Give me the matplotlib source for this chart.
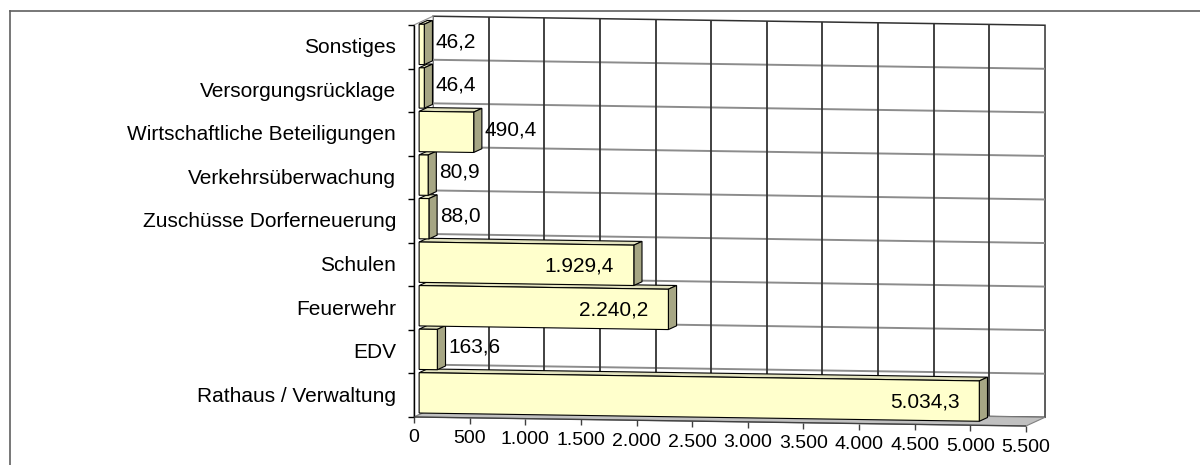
import matplotlib
matplotlib.use('Agg')
import matplotlib.pyplot as plt
from matplotlib.patches import Polygon
from matplotlib.lines import Line2D

plt.rcParams['font.family'] = ['Liberation Sans', 'DejaVu Sans']
plt.rcParams['font.size'] = 15

# bars from bottom to top
categories = ['Rathaus / Verwaltung', 'EDV', 'Feuerwehr', 'Schulen',
              'Zuschüsse Dorferneuerung', 'Verkehrsüberwachung',
              'Wirtschaftliche Beteiligungen', 'Versorgungsrücklage', 'Sonstiges']
values = [5034.3, 163.6, 2240.2, 1929.4, 88.0, 80.9, 490.4, 46.4, 46.2]
ticks = [0, 500, 1000, 1500, 2000, 2500, 3000, 3500, 4000, 4500, 5000, 5500]
tick_labels = ['0', '500', '1.000', '1.500', '2.000', '2.500', '3.000',
               '3.500', '4.000', '4.500', '5.000', '5.500']

XMAX = ticks[-1]
NCAT = len(categories)
DX = 171.0      # depth offset in value units
DY = 0.207      # depth offset in category units
SHEAR = 3.76e-5 # slight tilt of the whole box
GAP = 0.037
D0, D1 = 0.27, 0.70  # bar front / back depth

def proj(v, c, d):
    x = v + d * DX
    return x, c + d * DY - SHEAR * x

def de(v):
    s = f'{v:,.1f}'
    return s.replace(',', 'X').replace('.', ',').replace('X', '.')

fig = plt.figure(figsize=(12, 4.65), dpi=100)
ax = fig.add_axes([0, 0, 1, 1])
ax.set_xlim(-3720.6, 7063.9)
ax.set_ylim(-1.102, 9.573)
ax.axis('off')

def face(pts, fc, z, ec='black', lw=0.8):
    ax.add_patch(Polygon([proj(*p) for p in pts], closed=True, fc=fc, ec=ec,
                         lw=lw, zorder=z, joinstyle='miter'))

def seg(p, q, color, lw, z):
    a, b = proj(*p), proj(*q)
    ax.plot([a[0], b[0]], [a[1], b[1]], color=color, lw=lw, zorder=z,
            solid_capstyle='butt')

# walls and floor
face([(0, 0, 1), (XMAX, 0, 1), (XMAX, NCAT, 1), (0, NCAT, 1)], 'white', 1, ec='#303030', lw=1.1)
face([(0, 0, 0), (0, 0, 1), (0, NCAT, 1), (0, NCAT, 0)], 'white', 1, ec='#909090', lw=0.8)
face([(0, 0, 0), (XMAX, 0, 0), (XMAX, 0, 1), (0, 0, 1)], '#C0C0C0', 1, ec='#808080', lw=0.8)

# gridlines on the back wall
for k in range(1, NCAT):
    seg((0, k, 1), (XMAX, k, 1), '#8C8C8C', 1.4, 2)
for t in ticks[1:-1]:
    seg((t, 0, 1), (t, NCAT, 1), '#333333', 1.3, 2)

# axes lines and tick marks
seg((0, 0, 0), (0, NCAT, 0), 'black', 1.0, 3)
seg((0, 0, 0), (XMAX, 0, 0), '#404040', 1.0, 3)
lx, ly = zip(*[proj(0, k, 0) for k in range(NCAT + 1)])
ax.plot(lx, ly, ls='none', marker=0, ms=4.5, mew=1.0, color='black', zorder=3)
bx, by = zip(*[proj(t, 0, 0) for t in ticks])
ax.plot(bx, by, ls='none', marker=3, ms=4.5, mew=1.0, color='#404040', zorder=3)

for t, lab in zip(ticks, tick_labels):
    ax.annotate(lab, xy=proj(t, 0, 0), xytext=(0, -21), textcoords='offset pixels',
                ha='center', va='center', fontsize=14, zorder=5)

for i, name in enumerate(categories):
    ax.annotate(name, xy=proj(0, i + 0.5, 0), xytext=(-18, -1), textcoords='offset pixels',
                ha='right', va='center', zorder=5)

# 3d bars, lowest first so upper bars cover the top faces below them
for i, v in enumerate(values):
    c0, c1 = i + GAP, i + 1 - GAP
    z = 10 + i
    face([(0, c1, D0), (v, c1, D0), (v, c1, D1), (0, c1, D1)], '#E2E2BE', z)
    face([(v, c0, D0), (v, c0, D1), (v, c1, D1), (v, c1, D0)], '#A6A684', z)
    face([(0, c0, D0), (v, c0, D0), (v, c1, D0), (0, c1, D0)], '#FFFFCC', z)

for i, v in enumerate(values):
    if v > 1000:
        ax.annotate(de(v), xy=proj(v, i + 0.5, D0), xytext=(-20, -1),
                    textcoords='offset pixels', ha='right', va='center', zorder=30)
    else:
        ax.annotate(de(v), xy=proj(v, i + 0.5, D1), xytext=(3, -1),
                    textcoords='offset pixels', ha='left', va='center', zorder=30)

# chart area border
fig.add_artist(Line2D([10 / 1200, 1], [1 - 11 / 465] * 2, transform=fig.transFigure,
                      color='#606060', lw=1.2))
fig.add_artist(Line2D([10 / 1200] * 2, [0, 1 - 11 / 465], transform=fig.transFigure,
                      color='#606060', lw=1.2))

fig.savefig('out.png', dpi=100)
